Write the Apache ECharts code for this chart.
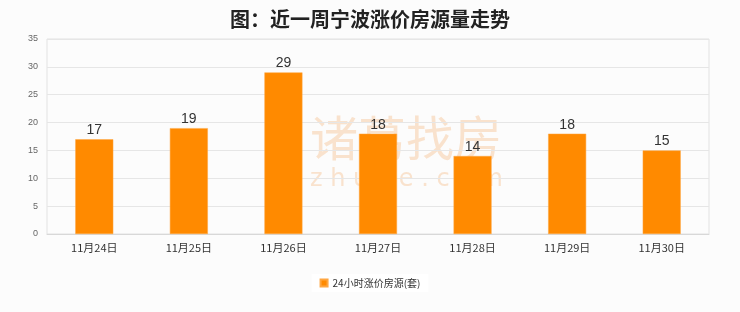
<!DOCTYPE html>
<html>
<head>
<meta charset="utf-8">
<script src="https://cdn.jsdelivr.net/npm/echarts@6/dist/echarts.min.js"></script>
<style>
html,body{margin:0;padding:0;background:#fcfcfc;}
#chart{width:740px;height:312px;}
</style>
</head>
<body>
<div id="chart"></div>
<script>
const categories = ['11月24日','11月25日','11月26日','11月27日','11月28日','11月29日','11月30日'];
const listings = [17, 19, 29, 18, 14, 18, 15];
const seriesName = '24小时涨价房源(套)';
const titleText = '图：近一周宁波涨价房源量走势';

const chart = echarts.init(document.getElementById('chart'));
chart.setOption({
  backgroundColor: '#fcfcfc',
  animation: false,
  title: {
    text: titleText,
    left: 'center',
    top: 4,
    textStyle: { fontSize: 20, fontWeight: 'bold', color: '#222', fontFamily: 'Noto Sans CJK SC' }
  },
  graphic: [
    {
      type: 'text', left: 310, top: 114, z: 0,
      style: { text: '诸葛找房', font: '48px "Noto Sans CJK SC"', fill: 'rgba(245,185,130,0.38)' }
    },
    {
      type: 'text', left: 310, top: 168, z: 0,
      style: { text: 'z h u g e . c o m', font: '24px "DejaVu Sans"', fill: 'rgba(245,185,130,0.38)' }
    }
  ],
  grid: { left: 47, right: 31, top: 39, bottom: 78, show: true, borderColor: '#e2e2e2', borderWidth: 1 },
  legend: {
    bottom: 20,
    left: 'center',
    itemWidth: 7, itemHeight: 7,
    icon: 'rect',
    backgroundColor: '#ffffff',
    padding: [4, 8],
    textStyle: { fontSize: 10, color: '#333', fontFamily: 'Noto Sans CJK SC' },
    data: [seriesName]
  },
  xAxis: {
    type: 'category',
    data: categories,
    axisLine: { lineStyle: { color: '#d8d8d8' } },
    axisTick: { show: false },
    axisLabel: { fontSize: 11, color: '#333', margin: 8, fontFamily: 'Noto Sans CJK SC' }
  },
  yAxis: {
    type: 'value',
    min: 0, max: 35, interval: 5,
    axisLine: { show: false },
    axisTick: { show: false },
    splitLine: { lineStyle: { color: '#e6e6e6' } },
    axisLabel: { fontSize: 9, color: '#666', margin: 9 }
  },
  series: [{
    name: seriesName,
    type: 'bar',
    data: listings,
    barWidth: 38,
    itemStyle: { color: '#ff8a00', borderColor: '#ffa640', borderWidth: 0.5 },
    label: { show: true, position: 'top', fontSize: 14, color: '#333', distance: 2 }
  }]
});
</script>
</body>
</html>
